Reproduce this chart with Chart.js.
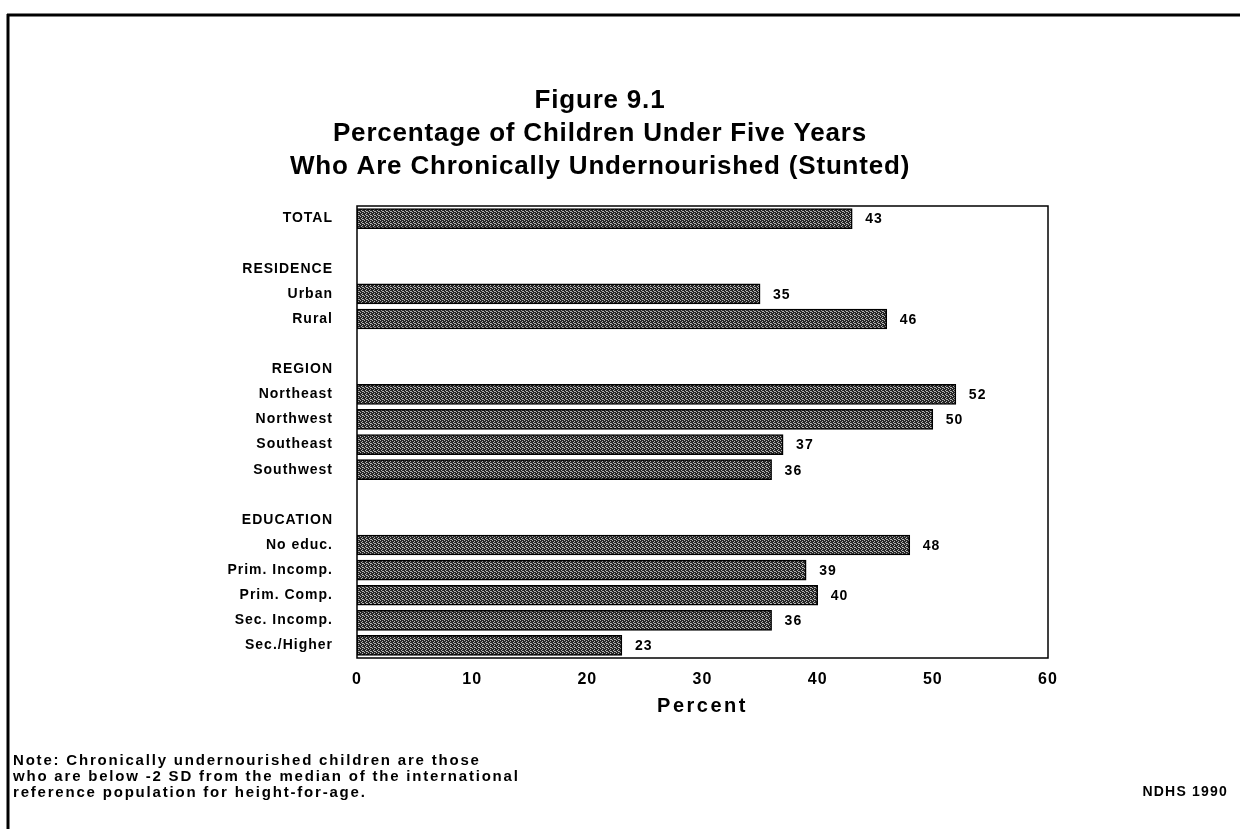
<!DOCTYPE html>
<html>
<head>
<meta charset="utf-8">
<script src="https://cdn.jsdelivr.net/npm/chart.js@4/dist/chart.umd.min.js"></script>
<style>
  html, body { margin: 0; padding: 0; background: #fff; }
  #wrap { width: 1240px; height: 829px; }
</style>
</head>
<body>
<div id="wrap"><canvas id="stunting" width="1240" height="829"></canvas></div>
<script>
// rows of the chart, blank strings are spacer rows, upper-case ones are group headings
const rowLabels = ['TOTAL', '', 'RESIDENCE', 'Urban', 'Rural', '', 'REGION', 'Northeast', 'Northwest',
    'Southeast', 'Southwest', '', 'EDUCATION', 'No educ.', 'Prim. Incomp.', 'Prim. Comp.',
    'Sec. Incomp.', 'Sec./Higher'];
const stuntedPct = [43, null, null, 35, 46, null, null, 52, 50, 37, 36, null, null, 48, 39, 40, 36, 23];
const percentTicks = [0, 10, 20, 30, 40, 50, 60];

const titleLines = ['Figure 9.1', 'Percentage of Children Under Five Years',
    'Who Are Chronically Undernourished (Stunted)'];
const axisTitle = 'Percent';
const noteLines = ['Note: Chronically undernourished children are those',
    'who are below -2 SD from the median of the international',
    'reference population for height-for-age.'];
const sourceText = 'NDHS 1990';

const FONT = '"Liberation Sans", Arial, Helvetica, sans-serif';

function dotPattern(ctx) {
    const c = document.createElement('canvas');
    c.width = 4;
    c.height = 4;
    const g = c.getContext('2d');
    g.fillStyle = '#262626';
    g.fillRect(0, 0, 4, 4);
    g.fillStyle = '#b4b4b4';
    [[0, 0], [2, 1], [1, 2], [3, 3], [2, 3]].forEach(p => g.fillRect(p[0], p[1], 1, 1));
    return ctx.createPattern(c, 'repeat');
}

const decorations = {
    id: 'decorations',
    beforeDraw(chart) {
        // the scanned type is loosely tracked
        chart.ctx.letterSpacing = '1px';
    },
    afterDatasetsDraw(chart) {
        const ctx = chart.ctx;
        const meta = chart.getDatasetMeta(0);
        ctx.save();
        ctx.font = 'bold 14px ' + FONT;
        ctx.letterSpacing = '1px';
        ctx.fillStyle = '#000';
        ctx.textAlign = 'left';
        ctx.textBaseline = 'middle';
        meta.data.forEach((bar, i) => {
            if (stuntedPct[i] == null) return;
            ctx.fillText(String(stuntedPct[i]), bar.x + 13, bar.y + 1);
        });
        ctx.restore();
    },
    afterDraw(chart) {
        const ctx = chart.ctx;
        const a = chart.chartArea;
        ctx.save();
        // plot box
        ctx.strokeStyle = '#000';
        ctx.lineWidth = 1.5;
        ctx.strokeRect(a.left, a.top, a.right - a.left, a.bottom - a.top);
        // page frame (top and left edges of the scan)
        ctx.lineWidth = 3;
        ctx.beginPath();
        ctx.moveTo(7, 15);
        ctx.lineTo(1240, 15);
        ctx.moveTo(8, 14);
        ctx.lineTo(8, 829);
        ctx.stroke();

        ctx.fillStyle = '#000';
        ctx.textBaseline = 'middle';
        ctx.textAlign = 'center';
        ctx.font = 'bold 26px ' + FONT;
        ctx.letterSpacing = '0.8px';
        titleLines.forEach((t, i) => ctx.fillText(t, 600, 101 + i * 33));

        ctx.font = 'bold 20px ' + FONT;
        ctx.letterSpacing = '2.5px';
        ctx.fillText(axisTitle, (a.left + a.right) / 2, 706);

        ctx.textAlign = 'left';
        ctx.font = 'bold 15px ' + FONT;
        ctx.letterSpacing = '1.8px';
        noteLines.forEach((t, i) => ctx.fillText(t, 13, 761 + i * 16));

        ctx.textAlign = 'right';
        ctx.font = 'bold 14px ' + FONT;
        ctx.letterSpacing = '1.2px';
        ctx.fillText(sourceText, 1228, 792);
        ctx.restore();
    }
};

const ctx = document.getElementById('stunting').getContext('2d');

new Chart(ctx, {
    type: 'bar',
    data: {
        labels: rowLabels,
        datasets: [{
            data: stuntedPct,
            backgroundColor: dotPattern(ctx),
            borderColor: '#000',
            borderWidth: 1.5,
            borderSkipped: false,
            barThickness: 20
        }]
    },
    options: {
        indexAxis: 'y',
        responsive: false,
        animation: false,
        layout: { padding: { top: 206, right: 192, left: 0, bottom: 112 } },
        plugins: {
            legend: { display: false },
            title: { display: false },
            tooltip: { enabled: false }
        },
        scales: {
            x: {
                min: 0,
                max: 60,
                afterBuildTicks: s => { s.ticks = percentTicks.map(v => ({ value: v })); },
                afterFit: s => { s.height = 59; },
                grid: { display: false, drawTicks: false },
                border: { display: false },
                ticks: {
                    padding: 12,
                    color: '#000',
                    font: { family: FONT, size: 16, weight: 'bold' }
                }
            },
            y: {
                afterFit: s => { s.width = 357; },
                grid: { display: false, drawTicks: false },
                border: { display: false },
                ticks: {
                    padding: 24,
                    autoSkip: false,
                    color: '#000',
                    font: { family: FONT, size: 14, weight: 'bold' }
                }
            }
        }
    },
    plugins: [decorations]
});
</script>
</body>
</html>
